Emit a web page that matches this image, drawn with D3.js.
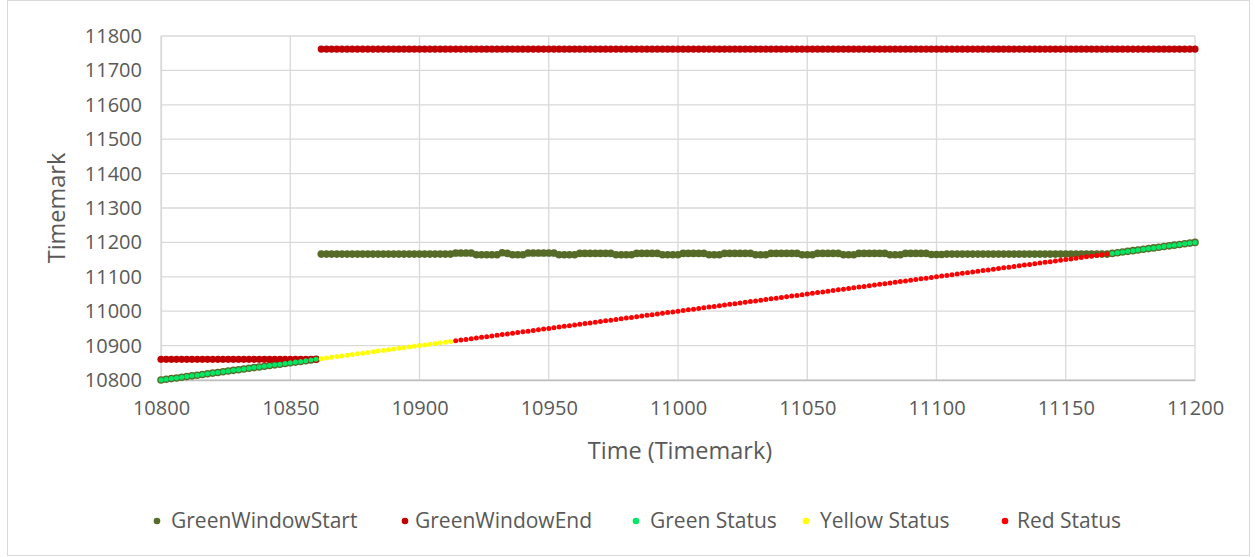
<!DOCTYPE html>
<html>
<head>
<meta charset="utf-8">
<script src="https://cdn.jsdelivr.net/npm/d3@7"></script>
<style>
  html, body { margin: 0; padding: 0; background: #ffffff; }
  svg text { font-family: "Open Sans", "Noto Sans", sans-serif; fill: #595959; }
</style>
</head>
<body>
<svg id="chart" width="1255" height="557"></svg>
<script>
// Sampling grid of the run (Time, in timemarks)
const timeStart = 10800;
const timeEnd = 11200;
const timeStep = 2;

// Phase boundaries (inclusive) for each status
const greenPhase1 = [10800, 10860];
const yellowPhase = [10862, 10912];
const redPhase = [10914, 11166];
const greenPhase2 = [11168, 11200];

// Green window end levels
const windowEndEarly = 10860;   // during first green phase
const windowEndLate = 11762;    // from 10862 onward

// Green window start while waiting (10862 .. 11166, every 2)
const windowStartHold = [
  11166, 11166, 11166, 11166, 11166, 11166, 11166, 11166, 11166, 11166,
  11166, 11166, 11166, 11166, 11166, 11166, 11166, 11166, 11166, 11166,
  11166, 11166, 11166, 11166, 11166, 11166,
  11169, 11169, 11169, 11169, 11164, 11164, 11164, 11164, 11164, 11170,
  11168, 11164, 11164, 11164, 11169, 11169, 11169, 11169, 11169, 11169,
  11164, 11164, 11164, 11164, 11168, 11168, 11168, 11168, 11168, 11168,
  11168,
  11164, 11164, 11164, 11164, 11168, 11168, 11168, 11168, 11168, 11164,
  11164, 11164, 11164, 11168, 11168, 11168, 11168, 11168, 11164, 11164,
  11164, 11168, 11168, 11168, 11168, 11168, 11168, 11164, 11164, 11164,
  11168, 11168, 11168, 11168, 11168, 11168, 11164, 11164, 11164, 11168,
  11168, 11168, 11168, 11168, 11164, 11164, 11164, 11168, 11168, 11168,
  11168, 11168, 11168, 11164, 11164, 11164, 11168, 11168, 11168, 11168,
  11168, 11165, 11165, 11165,
  11166, 11166, 11166, 11166, 11166, 11166, 11166, 11166, 11166, 11166,
  11166, 11166, 11166, 11166, 11166, 11166, 11166, 11166, 11166, 11166,
  11166, 11166, 11166, 11166, 11166, 11166, 11166, 11166, 11166, 11166,
  11166, 11166
];
const holdStart = 10862;

// Axis ticks
const xTicks = [10800, 10850, 10900, 10950, 11000, 11050, 11100, 11150, 11200];
const yTicks = [10800, 10900, 11000, 11100, 11200, 11300, 11400, 11500, 11600, 11700, 11800];

const seriesNames = ["GreenWindowStart", "GreenWindowEnd", "Green Status", "Yellow Status", "Red Status"];
const seriesColors = ["#566b27", "#c00000", "#00e765", "#ffff00", "#ff0000"];
const seriesRadius = [3.8, 3.6, 2.5, 2.5, 2.5];

// ---- build point lists ----
const times = d3.range(timeStart, timeEnd + 1, timeStep);
const inPhase = (t, p) => t >= p[0] && t <= p[1];

const windowStart = times.map(t => {
  if (t >= holdStart && t < greenPhase2[0]) return { x: t, y: windowStartHold[(t - holdStart) / timeStep] };
  return { x: t, y: t };
});
const windowEnd = times.map(t => ({ x: t, y: inPhase(t, greenPhase1) ? windowEndEarly : windowEndLate }));
const greenPts = times.filter(t => inPhase(t, greenPhase1) || inPhase(t, greenPhase2)).map(t => ({ x: t, y: t }));
const yellowPts = times.filter(t => inPhase(t, yellowPhase)).map(t => ({ x: t, y: t }));
const redPts = times.filter(t => inPhase(t, redPhase)).map(t => ({ x: t, y: t }));
const seriesData = [windowStart, windowEnd, greenPts, yellowPts, redPts];

// ---- layout ----
const svg = d3.select("#chart");
const plot = { left: 161, right: 1195, top: 36, bottom: 380 };

svg.append("rect")
  .attr("x", 7.5).attr("y", 0.5).attr("width", 1242).attr("height", 555)
  .attr("fill", "#ffffff").attr("stroke", "#d9d9d9");

const x = d3.scaleLinear().domain([10800, 11200]).range([plot.left, plot.right]);
const y = d3.scaleLinear().domain([10800, 11800]).range([plot.bottom, plot.top]);

// gridlines
const grid = svg.append("g");
grid.selectAll("line.v").data(xTicks).join("line")
  .attr("x1", d => x(d)).attr("x2", d => x(d))
  .attr("y1", plot.top).attr("y2", plot.bottom)
  .attr("stroke", "#d9d9d9").attr("stroke-width", 1.3);
grid.selectAll("line.h").data(yTicks).join("line")
  .attr("x1", plot.left).attr("x2", plot.right)
  .attr("y1", d => y(d)).attr("y2", d => y(d))
  .attr("stroke", "#d9d9d9").attr("stroke-width", 1.3);

// axes
const fmt = d3.format("d");
const xAxis = svg.append("g")
  .attr("transform", `translate(0,${plot.bottom})`)
  .call(d3.axisBottom(x).tickValues(xTicks).tickFormat(fmt).tickSize(0).tickPadding(21));
const yAxis = svg.append("g")
  .attr("transform", `translate(${plot.left},0)`)
  .call(d3.axisLeft(y).tickValues(yTicks).tickFormat(fmt).tickSize(0).tickPadding(19));
[xAxis, yAxis].forEach(a => {
  a.select(".domain").attr("stroke", "#bfbfbf").attr("stroke-width", 1.3);
  a.selectAll("text").attr("font-size", 20).style("font-family", "\"Open Sans\", sans-serif").attr("fill", "#595959");
});
yAxis.select(".domain").attr("stroke", "#d9d9d9");
xAxis.selectAll("text").attr("dy", "0.71em");

// axis titles
svg.append("text")
  .attr("x", 680).attr("y", 451).attr("dy", "0.35em")
  .attr("text-anchor", "middle").attr("font-size", 23.5)
  .text("Time (Timemark)");
svg.append("text")
  .attr("transform", `translate(57,${(plot.top + plot.bottom) / 2}) rotate(-90)`)
  .attr("text-anchor", "middle").attr("dy", "0.35em").attr("font-size", 23.5)
  .text("Timemark");

// points
seriesData.forEach((pts, i) => {
  svg.append("g").selectAll("circle").data(pts).join("circle")
    .attr("cx", d => x(d.x)).attr("cy", d => y(d.y))
    .attr("r", seriesRadius[i])
    .attr("fill", seriesColors[i]);
});

// legend
const legendDotX = [157, 405, 636, 806, 1005];
const legendTextX = [171, 415, 650, 820, 1017];
const legend = svg.append("g");
seriesNames.forEach((name, i) => {
  legend.append("circle").attr("cx", legendDotX[i]).attr("cy", 521).attr("r", 3.3).attr("fill", seriesColors[i]);
  legend.append("text").attr("x", legendTextX[i]).attr("y", 521).attr("dy", "0.35em")
    .attr("font-size", 21).text(name);
});
</script>
</body>
</html>
